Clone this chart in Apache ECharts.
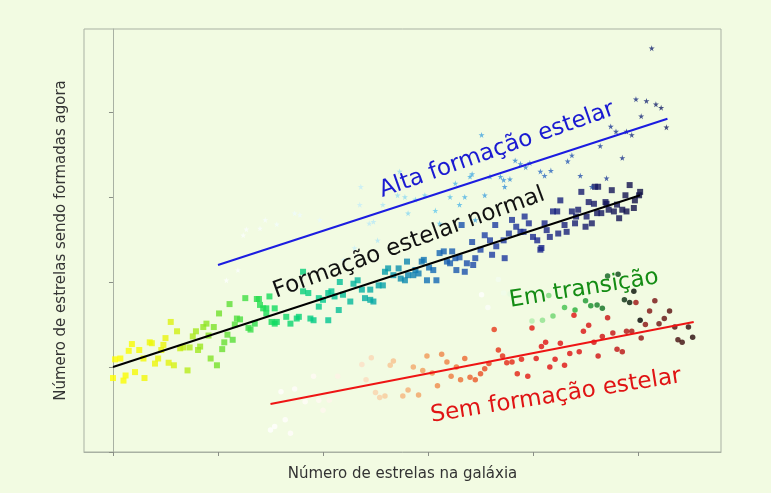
<!DOCTYPE html>
<html>
<head>
<meta charset="utf-8">
<title>Formação estelar vs número de estrelas</title>
<script src="https://cdn.jsdelivr.net/npm/echarts@6/dist/echarts.min.js"></script>
<style>
  html, body { margin: 0; padding: 0; background: #f2fbe2; }
  #chart { width: 771px; height: 493px; }
</style>
</head>
<body>
<div id="chart"></div>
<script>
// Galaxies on the star-formation main sequence (squares)
const normalPoints = [
  [0.00,0.87],[0.10,0.84],[0.12,0.90],[0.21,0.94],[0.30,0.87],[0.02,1.09],[0.07,1.10],[0.15,1.19],
  [0.18,1.27],[0.25,1.20],[0.29,1.10],[0.35,1.29],[0.37,1.28],[0.40,1.04],[0.43,1.10],[0.46,1.20],
  [0.48,1.26],[0.50,1.34],[0.53,1.05],[0.55,1.53],[0.58,1.02],[0.61,1.42],[0.64,1.22],[0.67,1.23],
  [0.71,0.96],[0.73,1.23],[0.76,1.36],[0.79,1.42],[0.81,1.20],[0.83,1.24],[0.86,1.47],[0.89,1.51],
  [0.91,1.37],[0.93,1.10],[0.96,1.47],[0.99,1.02],[1.01,1.63],[1.04,1.21],[1.06,1.29],[1.09,1.38],
  [1.11,1.74],[1.14,1.32],[1.16,1.50],[1.18,1.57],[1.21,1.56],[1.26,1.81],[1.29,1.46],[1.31,1.44],
  [1.35,1.51],[1.37,1.80],[1.39,1.80],[1.40,1.73],[1.43,1.69],[1.46,1.69],[1.46,1.63],[1.49,1.83],
  [1.51,1.53],[1.54,1.51],[1.54,1.69],[1.56,1.53],[1.65,1.59],[1.69,1.51],[1.75,1.57],[1.77,1.59],
  [1.81,2.12],[1.81,1.89],[1.86,1.87],[1.88,1.57],[1.91,1.55],[1.96,1.81],[1.96,1.71],[2.00,1.79],
  [2.05,1.87],[2.05,1.55],[2.08,1.89],[2.11,1.83],[2.15,1.67],[2.16,2.00],[2.19,1.85],[2.26,1.77],
  [2.29,1.98],[2.33,2.02],[2.37,1.91],[2.40,1.81],[2.45,1.79],[2.45,1.91],[2.48,1.77],[2.53,1.96],
  [2.57,1.96],[2.59,2.12],[2.62,2.16],[2.67,2.08],[2.72,2.16],[2.74,2.04],[2.78,2.02],[2.80,2.24],
  [2.81,2.08],[2.86,2.08],[2.88,2.14],[2.91,2.10],[2.94,2.24],[2.96,2.26],[2.99,2.02],[3.01,2.17],
  [3.05,2.14],[3.08,2.02],[3.11,2.34],[3.15,2.36],[3.18,2.24],[3.21,2.22],[3.23,2.36],[3.26,2.28],
  [3.27,2.14],[3.30,2.29],[3.32,2.67],[3.35,2.12],[3.37,2.22],[3.42,2.47],[3.43,2.20],[3.45,2.28],
  [3.50,2.38],[3.54,2.55],[3.59,2.49],[3.61,2.32],[3.64,2.67],[3.65,2.42],[3.72,2.49],[3.73,2.28],
  [3.77,2.57],[3.80,2.73],[3.84,2.65],[3.88,2.59],[3.91,2.59],[3.92,2.77],[3.96,2.69],[4.00,2.53],
  [4.04,2.49],[4.07,2.38],[4.08,2.40],[4.11,2.69],[4.13,2.61],[4.16,2.53],[4.19,2.83],[4.23,2.83],
  [4.24,2.57],[4.26,2.96],[4.30,2.67],[4.32,2.59],[4.37,2.83],[4.40,2.69],[4.41,2.77],[4.43,2.85],
  [4.46,3.06],[4.50,2.65],[4.51,2.77],[4.53,2.94],[4.56,2.69],[4.58,2.92],[4.59,3.12],[4.61,2.81],
  [4.62,3.12],[4.65,2.81],[4.69,2.94],[4.70,2.92],[4.72,2.85],[4.75,3.08],[4.77,2.83],[4.80,2.91],
  [4.82,2.75],[4.85,2.85],[4.88,3.02],[4.89,2.83],[4.92,3.14],[4.96,2.87],[4.97,2.96],[5.01,3.02],
  [5.02,3.06]
];

// Starburst galaxies (stars)
const starburstPoints = [
  [1.08,2.02],[1.19,2.14],[1.24,2.55],[1.27,2.62],[1.40,2.63],[1.45,2.73],[1.56,2.68],[1.73,2.81],
  [1.78,2.79],[1.97,2.73],[2.20,2.26],[2.30,2.40],[2.35,2.91],[2.36,3.12],[2.44,2.69],[2.48,2.71],
  [2.52,2.49],[2.57,2.91],[2.71,3.02],[2.73,3.30],[2.78,3.00],[2.81,2.81],[2.88,2.97],[2.97,3.02],
  [3.07,2.84],[3.11,2.69],[3.21,3.00],[3.26,3.16],[3.30,2.91],[3.35,3.00],[3.40,3.24],[3.42,3.27],
  [3.45,2.73],[3.51,3.73],[3.54,3.02],[3.59,3.24],[3.69,3.24],[3.72,3.20],[3.73,3.12],[3.78,3.21],
  [3.83,3.43],[3.88,3.39],[3.93,3.35],[3.97,3.40],[4.07,3.30],[4.11,3.25],[4.17,3.31],[4.33,3.42],
  [4.37,3.49],[4.45,3.25],[4.56,3.12],[4.64,3.60],[4.70,3.22],[4.74,3.83],[4.79,3.77],[4.85,3.46],
  [4.89,3.77],[4.94,3.73],[4.98,4.15],[5.03,3.95],[5.08,4.13],[5.13,4.75],[5.17,4.09],[5.22,4.05],
  [5.27,3.82]
];

// Galaxies in transition (green circles)
const transitionPoints = [
  [3.51,1.85],[3.57,1.70],[3.67,2.03],[3.72,1.87],[3.78,1.86],[3.99,1.54],[4.09,1.55],[4.15,1.84],
  [4.19,1.60],[4.30,1.70],[4.40,1.67],[4.50,1.78],[4.55,1.72],[4.61,1.73],[4.66,1.69],[4.71,2.07],
  [4.81,2.09],[4.87,1.79],[4.92,1.76],[4.96,1.89],[5.02,1.55]
];

// Quiescent galaxies (red circles)
const quiescentPoints = [
  [1.50,0.26],[1.54,0.30],[1.60,0.71],[1.64,0.38],[1.69,0.22],[1.73,0.74],[1.83,0.59],[1.91,0.89],
  [1.96,0.61],[2.00,0.49],[2.06,0.61],[2.14,0.89],
  [2.37,1.03],[2.41,0.85],[2.46,1.11],[2.50,0.70],[2.54,0.64],[2.59,0.66],[2.64,1.02],[2.67,1.07],
  [2.76,0.66],[2.81,0.73],[2.86,1.00],[2.91,0.67],[2.95,0.96],[2.99,1.13],[3.04,0.93],[3.09,0.78],
  [3.13,1.15],[3.18,1.06],[3.22,0.89],[3.27,1.00],[3.31,0.85],[3.35,1.10],[3.40,0.88],[3.45,0.85],
  [3.50,0.92],[3.54,0.98],[3.58,1.04],
  [3.63,1.44],[3.67,1.20],[3.71,1.13],[3.75,1.05],[3.80,1.06],[3.85,0.92],[3.89,1.09],[3.95,0.89],
  [3.99,1.46],[4.03,1.10],[4.08,1.24],[4.12,1.29],[4.16,1.00],[4.21,1.09],[4.26,1.28],[4.30,1.02],
  [4.35,1.16],[4.39,1.61],[4.44,1.18],[4.48,1.42],[4.53,1.49],[4.58,1.29],[4.62,1.13],[4.66,1.36],
  [4.71,1.58],[4.76,1.40],[4.80,1.21],[4.85,1.18],[4.89,1.42],[4.94,1.42],[4.98,1.76],[5.03,1.34],
  [5.07,1.50],[5.11,1.66],[5.16,1.78],[5.20,1.51],[5.25,1.57],[5.30,1.66],[5.35,1.47],[5.38,1.32],
  [5.42,1.29],[5.48,1.47],[5.52,1.35]
];

// Trend lines (start and end points)
const starburstLine = [[1.00,2.20],[5.28,3.92]];
const normalLine = [[0.00,1.00],[5.02,3.02]];
const quiescentLine = [[1.50,0.565],[5.53,1.53]];

// Tick positions (no tick labels are shown)
const xTicks = [0,1,2,3,4,5];
const yTicks = [0,1,2,3,4];

const xTitle = 'Número de estrelas na galáxia';
const yTitle = 'Número de estrelas sendo formadas agora';

const labelAlta = 'Alta formação estelar';
const labelNormal = 'Formação estelar normal';
const labelTransicao = 'Em transição';
const labelSem = 'Sem formação estelar';

const FONT = '"DejaVu Sans", "Liberation Sans", sans-serif';
const STAR = 'path://M50,0 L61,35 L98,35 L68,57 L79,91 L50,70 L21,91 L32,57 L2,35 L39,35 Z';
const FRAME = '#a9b1a3';

const chart = echarts.init(document.getElementById('chart'), null, { renderer: 'canvas' });

function lineSeries(data, color) {
  return {
    type: 'line', data: data, symbol: 'none', silent: true, z: 5,
    lineStyle: { color: color, width: 2 }
  };
}

function rotatedLabel(text, x, y, deg, color) {
  return {
    type: 'text', x: x, y: y, rotation: deg * Math.PI / 180, z: 100,
    style: {
      text: text, fill: color, fontSize: 23, fontFamily: FONT,
      align: 'center', verticalAlign: 'middle',
      textAlign: 'center', textVerticalAlign: 'middle'
    }
  };
}

chart.setOption({
  backgroundColor: '#f2fbe2',
  animation: false,
  grid: {
    left: 84, top: 29, width: 637, height: 423,
    show: true, borderColor: FRAME, borderWidth: 1, backgroundColor: 'transparent'
  },
  xAxis: {
    type: 'value', min: -0.276, max: 5.79,
    name: xTitle, nameLocation: 'middle', nameGap: 15,
    nameTextStyle: { fontFamily: FONT, fontSize: 15, color: '#333333' },
    axisLine: { show: true, lineStyle: { color: FRAME } },
    axisTick: { show: true, inside: false, length: 4, customValues: xTicks, lineStyle: { color: '#8a8f86' } },
    axisLabel: { show: false },
    splitLine: { show: false }
  },
  yAxis: {
    type: 'value', min: 0, max: 4.976,
    name: yTitle, nameLocation: 'middle', nameGap: 15,
    nameTextStyle: { fontFamily: FONT, fontSize: 15, color: '#333333' },
    axisLine: { show: true, lineStyle: { color: FRAME } },
    axisTick: { show: true, inside: false, length: 4, customValues: yTicks, lineStyle: { color: '#8a8f86' } },
    axisLabel: { show: false },
    splitLine: { show: false }
  },
  visualMap: [
    {
      type: 'continuous', show: false, seriesIndex: 0, dimension: 0, min: 0, max: 5.05,
      inRange: { color: ['#ffff00', '#e8f40c', '#70e02c', '#10dc5c', '#00c890', '#06a6a8',
                         '#126cb6', '#1e40a6', '#1a288e', '#161a68', '#100f44'] }
    },
    {
      type: 'continuous', show: false, seriesIndex: 1, dimension: 0, min: 1.0, max: 5.3,
      inRange: { color: ['#ffffff', '#f4fcfc', '#e4f8fc', '#a8e4f4', '#58c4ec', '#3a96da',
                         '#2c62bc', '#1e3894', '#141c60'] }
    },
    {
      type: 'continuous', show: false, seriesIndex: 2, dimension: 0, min: 3.5, max: 5.0,
      inRange: { color: ['#ffffff', '#f0fcec', '#c8f4c0', '#7cdc7c', '#2cb83c', '#108a28',
                         '#0a4a18', '#000000'] }
    },
    {
      type: 'continuous', show: false, seriesIndex: 3, dimension: 0, min: 1.5, max: 5.55,
      inRange: { color: ['#ffffff', '#fffcf8', '#fdeee0', '#f8c898', '#f09a58', '#ec6a30',
                         '#e42a14', '#e01010', '#dc1010', '#c01010', '#701010', '#200808'] }
    }
  ],
  series: [
    { type: 'scatter', data: normalPoints, symbol: 'rect', symbolSize: 6, z: 2 },
    { type: 'scatter', data: starburstPoints, symbol: STAR, symbolSize: 6, z: 2 },
    { type: 'scatter', data: transitionPoints, symbol: 'circle', symbolSize: 5.5, z: 2 },
    { type: 'scatter', data: quiescentPoints, symbol: 'circle', symbolSize: 5.5, z: 2 },
    lineSeries(starburstLine, '#1c1ce0'),
    lineSeries(normalLine, '#000000'),
    lineSeries(quiescentLine, '#ee1414')
  ],
  graphic: [
    rotatedLabel(labelAlta, 497, 150, 19.5, '#1a1ad2'),
    rotatedLabel(labelNormal, 409, 243, 20, '#111111'),
    rotatedLabel(labelTransicao, 584, 289, 9, '#148c14'),
    rotatedLabel(labelSem, 556, 396, 9, '#e01414')
  ]
});
</script>
</body>
</html>
